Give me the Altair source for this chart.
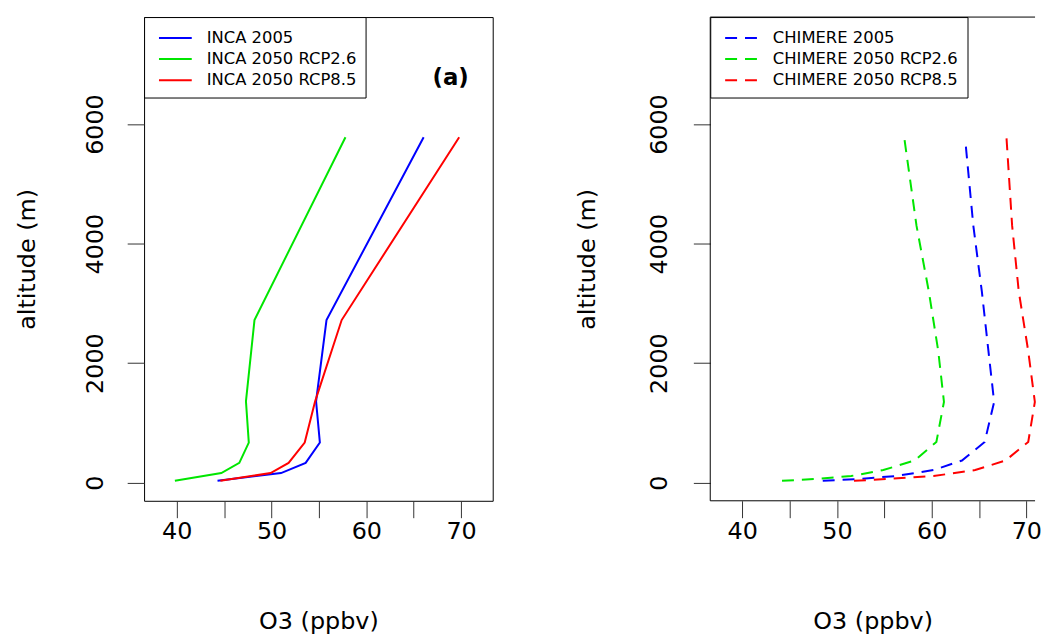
import altair as alt
import pandas as pd

# ---- data ----
inca_series = ["INCA 2005", "INCA 2050 RCP2.6", "INCA 2050 RCP8.5"]
inca_alt = [30, 160, 330, 670, 1360, 2720, 5780]
inca_2005 = [44.3, 51.0, 53.6, 55.1, 54.7, 55.8, 66.05]
inca_rcp26 = [39.8, 44.7, 46.6, 47.6, 47.3, 48.2, 57.8]
inca_rcp85 = [44.6, 49.9, 51.8, 53.5, 54.6, 57.4, 69.8]

chim_series = ["CHIMERE 2005", "CHIMERE 2050 RCP2.6", "CHIMERE 2050 RCP8.5"]
chim_alt = [30, 60, 110, 210, 370, 680, 1350, 2200, 3200, 4300, 5780]
chim_alt_2005 = [30, 60, 110, 210, 370, 680, 1350, 2200, 3200, 4300, 5650]
chim_2005 = [48.5, 52.2, 56.2, 60.2, 63.2, 65.6, 66.6, 66.0, 65.3, 64.4, 63.6]
chim_rcp26 = [44.2, 47.7, 51.5, 54.9, 58.2, 60.5, 61.3, 60.7, 59.7, 58.4, 57.1]
chim_rcp85 = [51.8, 55.2, 60.2, 64.6, 67.8, 70.2, 70.9, 70.2, 69.2, 68.5, 67.9]

colors = ["#0000FF", "#00E600", "#FF0000"]
x_ticks = [40, 45, 50, 55, 60, 65, 70]
y_ticks = [0, 2000, 4000, 6000]
panel_label = ["(a)"]
panel_label_x = [68.9]
panel_label_y = [6776]

FONT = "DejaVu Sans"
H = 487
LW = 351
RW = 327


def build(series, alts, vals):
    rows = []
    for s, a_list, v_list in zip(series, alts, vals):
        for a, v in zip(a_list, v_list):
            rows.append({"series": s, "alt": a, "o3": v})
    return pd.DataFrame(rows)


inca_df = build(inca_series, [inca_alt] * 3, [inca_2005, inca_rcp26, inca_rcp85])
chim_df = build(chim_series, [chim_alt_2005, chim_alt, chim_alt],
                [chim_2005, chim_rcp26, chim_rcp85])
label_df = pd.DataFrame({"o3": panel_label_x, "alt": panel_label_y, "label": panel_label})


def x_axis(lp, tp):
    return alt.Axis(values=x_ticks, labelExpr="datum.value % 10 === 0 ? datum.label : ''",
                    tickSize=17, tickColor="#333333", tickWidth=1, domain=False, grid=False,
                    labelFont=FONT, labelFontSize=24, labelColor="black",
                    labelPadding=lp, labelBaseline="top",
                    title="O3 (ppbv)", titleFont=FONT, titleFontSize=24,
                    titleFontWeight="normal", titleColor="black", titlePadding=tp)


def y_axis(lp, tp):
    return alt.Axis(values=y_ticks, format="d", labelAngle=270, labelAlign="center",
                    labelBaseline="bottom", tickSize=17, tickColor="#333333", tickWidth=1,
                    domain=False, grid=False, labelFont=FONT, labelFontSize=24,
                    labelColor="black", labelPadding=lp,
                    title="altitude (m)", titleFont=FONT, titleFontSize=24,
                    titleFontWeight="normal", titleColor="black", titlePadding=tp)


def legend(dash=None):
    kw = dict(title=None, orient="top-left", offset=0, strokeColor="black",
              fillColor="white", padding=9, symbolType="M-1.5,0L1.5,0", symbolSize=484,
              symbolStrokeWidth=2, symbolOffset=10.5, labelFont=FONT, labelFontSize=16.5,
              labelColor="black", labelOffset=19.5, labelLimit=500, rowPadding=0.25)
    if dash is not None:
        kw["symbolDash"] = dash
    return alt.Legend(**kw)


y_scale = alt.Scale(domain=[-304, 7790], nice=False, zero=False)

left_lines = alt.Chart(inca_df).mark_line(strokeWidth=2).encode(
    x=alt.X("o3:Q", scale=alt.Scale(domain=[36.55, 73.34], nice=False, zero=False),
            axis=x_axis(2, 66.5)),
    y=alt.Y("alt:Q", scale=y_scale, axis=y_axis(20, 44)),
    color=alt.Color("series:N", scale=alt.Scale(domain=inca_series, range=colors),
                    legend=legend()),
    order=alt.Order("alt:Q"),
)
left_text = alt.Chart(label_df).mark_text(font=FONT, fontSize=23, fontWeight="bold",
                                          align="center", baseline="middle",
                                          color="black").encode(
    x="o3:Q", y="alt:Q", text="label:N")

left = alt.layer(left_lines, left_text).properties(
    width=LW, height=H, view=alt.ViewBackground(stroke="black", strokeWidth=1))

right_lines = alt.Chart(chim_df).mark_line(strokeWidth=2, strokeDash=[12, 8]).encode(
    x=alt.X("o3:Q", scale=alt.Scale(domain=[36.62, 70.92], nice=False, zero=False),
            axis=x_axis(2, 66.5)),
    y=alt.Y("alt:Q", scale=y_scale, axis=y_axis(22, 48.5)),
    color=alt.Color("series:N", scale=alt.Scale(domain=chim_series, range=colors),
                    legend=legend([12, 8])),
    order=alt.Order("alt:Q"),
)
frame_df = pd.DataFrame({"k": [0]})
frame_top = alt.Chart(frame_df).mark_rule(color="black", strokeWidth=1).encode(
    x=alt.value(0), x2=alt.value(RW), y=alt.value(0))
frame_left = alt.Chart(frame_df).mark_rule(color="black", strokeWidth=1).encode(
    x=alt.value(0), y=alt.value(0), y2=alt.value(H))
frame_bottom = alt.Chart(frame_df).mark_rule(color="black", strokeWidth=1).encode(
    x=alt.value(0), x2=alt.value(RW), y=alt.value(H))

right = alt.layer(right_lines, frame_top, frame_left, frame_bottom).properties(
    width=RW, height=H, view=alt.ViewBackground(stroke="transparent"))

chart = alt.hconcat(left, right, spacing=81).resolve_scale(
    color="independent", x="independent", y="independent"
).resolve_legend(color="independent").properties(
    padding={"left": 7, "top": 6, "right": 0, "bottom": 0},
    background="white",
)

chart.save("out.html", embed_options={"renderer": "svg", "actions": False})
